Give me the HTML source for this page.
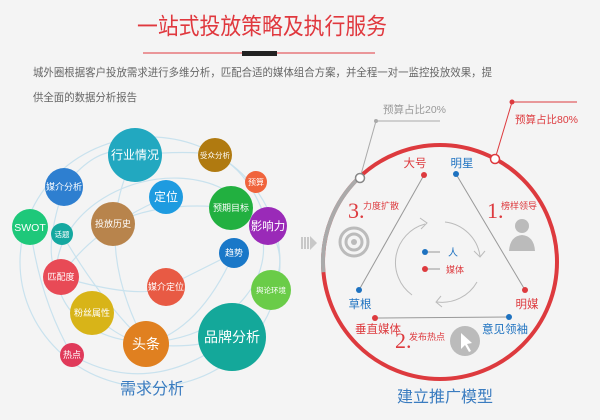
<!DOCTYPE html>
<html><head><meta charset="utf-8"><style>
html,body{margin:0;padding:0;background:#f4f4f4;}
svg{display:block;font-family:"Liberation Sans","Noto Sans CJK SC",sans-serif;}
</style></head><body>
<svg width="600" height="420" viewBox="0 0 600 420" xmlns="http://www.w3.org/2000/svg">
<rect width="600" height="420" fill="#f4f4f4"/>
<text x="137" y="34" font-size="23" fill="#e0383e" textLength="250" lengthAdjust="spacingAndGlyphs">一站式投放策略及执行服务</text>
<line x1="143" y1="53" x2="375" y2="53" stroke="#e0383e" stroke-width="1"/>
<rect x="242" y="51" width="35" height="5" fill="#222"/>
<text x="33" y="76" font-size="11" fill="#666" textLength="459" lengthAdjust="spacingAndGlyphs">城外圈根据客户投放需求进行多维分析，匹配合适的媒体组合方案，并全程一对一监控投放效果，提</text>
<text x="33" y="101" font-size="11" fill="#666" textLength="104" lengthAdjust="spacingAndGlyphs">供全面的数据分析报告</text>

<g fill="none" stroke="#c9e2ee" stroke-width="1.2">
<ellipse cx="150" cy="262" rx="130" ry="125"/>
<ellipse cx="160" cy="260" rx="105" ry="80" transform="rotate(-15 160 260)"/>
<path d="M64 187 Q100 140 135 155 Q190 150 215 155 Q250 170 268 226"/>
<path d="M30 227 Q40 300 72 355 Q150 400 232 337"/>
<path d="M61 277 Q140 300 166 287 Q210 265 234 253"/>
<path d="M113 224 Q160 200 231 208 Q260 215 268 226"/>
<path d="M92 313 Q120 340 146 344 Q190 350 232 337"/>
<path d="M135 155 Q90 240 146 344"/>
<path d="M62 234 Q100 300 146 344"/>
<path d="M234 253 Q200 330 146 344"/>
<path d="M166 197 Q90 230 61 277"/>
<path d="M271 290 Q290 260 268 226"/>
<path d="M64 187 Q40 260 61 277"/>
</g>
<g font-size="9" fill="#fff" text-anchor="middle">
<circle cx="135" cy="155" r="27" fill="#22a8c0"/><text x="135" y="159" font-size="12">行业情况</text>
<circle cx="215" cy="155" r="17" fill="#b07a10"/><text x="215" y="158" font-size="7.5">受众分析</text>
<circle cx="256" cy="182" r="11" fill="#f0643c"/><text x="256" y="185" font-size="8">预算</text>
<circle cx="64" cy="187" r="19" fill="#2e7fd0"/><text x="64" y="190">媒介分析</text>
<circle cx="166" cy="197" r="17" fill="#1e9be0"/><text x="166" y="201" font-size="12">定位</text>
<circle cx="231" cy="208" r="22" fill="#22b040"/><text x="231" y="211">预期目标</text>
<circle cx="268" cy="226" r="19" fill="#9a2ab8"/><text x="268" y="230" font-size="11.5">影响力</text>
<circle cx="30" cy="227" r="18" fill="#1ec87a"/><text x="30" y="231" font-size="10.5">SWOT</text>
<circle cx="62" cy="234" r="11" fill="#14a8a0"/><text x="62" y="237" font-size="7.5">话题</text>
<circle cx="113" cy="224" r="22" fill="#b8844c"/><text x="113" y="227">投放历史</text>
<circle cx="234" cy="253" r="15" fill="#1a78c8"/><text x="234" y="256">趋势</text>
<circle cx="61" cy="277" r="18" fill="#e84a56"/><text x="61" y="280">匹配度</text>
<circle cx="166" cy="287" r="19" fill="#e85a44"/><text x="166" y="290">媒介定位</text>
<circle cx="271" cy="290" r="20" fill="#6acc48"/><text x="271" y="293" font-size="7.5">舆论环境</text>
<circle cx="92" cy="313" r="22" fill="#d8b418"/><text x="92" y="316">粉丝属性</text>
<circle cx="146" cy="344" r="23" fill="#e08020"/><text x="146" y="349" font-size="14">头条</text>
<circle cx="232" cy="337" r="34" fill="#14a89a"/><text x="232" y="342" font-size="14">品牌分析</text>
<circle cx="72" cy="355" r="12" fill="#e03a5a"/><text x="72" y="358">热点</text>
</g>
<text x="152" y="394" text-anchor="middle" font-size="16" fill="#3a7cc0">需求分析</text>

<g fill="#c8c8c8"><rect x="301" y="237" width="2" height="12"/><rect x="304" y="237" width="2" height="12"/><rect x="307" y="237" width="2" height="12"/><polygon points="310,236 317,243 310,250"/></g>

<circle cx="440" cy="262" r="117" fill="none" stroke="#dd3a3e" stroke-width="4"/>
<path d="M323.4 272.2 A117 117 0 0 1 359.3 177.3" fill="none" stroke="#aaa" stroke-width="4"/>
<polyline points="360,178 376,121 440,121" fill="none" stroke="#aaa" stroke-width="1"/>
<circle cx="376" cy="121" r="2" fill="#aaa"/>
<text x="383" y="113" font-size="10.5" fill="#999">预算占比20%</text>
<polyline points="495,159 512,102 577,102" fill="none" stroke="#dd3a3e" stroke-width="1"/>
<circle cx="512" cy="102" r="2.5" fill="#dd3a3e"/>
<text x="515" y="123" font-size="10.5" fill="#dd3a3e">预算占比80%</text>
<circle cx="360" cy="178" r="4.5" fill="#fff" stroke="#888" stroke-width="1.5"/>
<circle cx="495" cy="159" r="4.5" fill="#fff" stroke="#dd3a3e" stroke-width="1.5"/>

<g stroke="#999" stroke-width="1">
<line x1="424" y1="175" x2="359" y2="290"/>
<line x1="456" y1="174" x2="525" y2="290"/>
<line x1="375" y1="318" x2="509" y2="317"/>
</g>
<circle cx="424" cy="175" r="3" fill="#dd3a3e"/>
<circle cx="456" cy="174" r="3" fill="#1e72c0"/>
<circle cx="359" cy="290" r="3" fill="#1e72c0"/>
<circle cx="525" cy="290" r="3" fill="#dd3a3e"/>
<circle cx="375" cy="318" r="3" fill="#dd3a3e"/>
<circle cx="509" cy="317" r="3" fill="#1e72c0"/>
<g font-size="11.5">
<text x="415" y="167" text-anchor="middle" fill="#dd3a3e">大号</text>
<text x="462" y="167" text-anchor="middle" fill="#1e72c0">明星</text>
<text x="360" y="308" text-anchor="middle" fill="#1e72c0">草根</text>
<text x="527" y="308" text-anchor="middle" fill="#dd3a3e">明媒</text>
<text x="378" y="333" text-anchor="middle" fill="#dd3a3e">垂直媒体</text>
<text x="505" y="333" text-anchor="middle" fill="#1e72c0">意见领袖</text>
</g>
<g fill="#dd3a3e">
<text x="348" y="218" font-size="22" font-family="Liberation Serif,serif">3.</text>
<text x="363" y="209" font-size="9">力度扩散</text>
<text x="487" y="218" font-size="22" font-family="Liberation Serif,serif">1.</text>
<text x="501" y="209" font-size="9">榜样领导</text>
<text x="395" y="348" font-size="22" font-family="Liberation Serif,serif">2.</text>
<text x="409" y="340" font-size="9">发布热点</text>
</g>
<g fill="none" stroke="#bbb" stroke-width="3">
<circle cx="354" cy="242" r="14"/><circle cx="354" cy="242" r="8"/>
</g>
<circle cx="354" cy="242" r="3" fill="#bbb"/>
<circle cx="522" cy="226" r="7" fill="#bbb"/>
<path d="M509 251 Q510 236 522 235 Q534 236 535 251 Z" fill="#bbb"/>
<circle cx="465" cy="341" r="15" fill="#bbb"/>
<path d="M461 333 L461 349 L465 345 L469 352 L471 351 L467 344 L472 343 Z" fill="#fff"/>
<g fill="none" stroke="#bbb" stroke-width="1">
<path d="M445 222 A40 40 0 0 1 480 256"/>
<path d="M477 282 A40 40 0 0 1 437 302"/>
<path d="M412 295 A40 40 0 0 1 425 224"/>
<polyline points="420,218 427,223 421,229"/>
<polyline points="474,251 480,257 485,251"/>
<polyline points="441,296 436,302 442,307"/>
</g>
<circle cx="425" cy="252" r="3" fill="#1e72c0"/><line x1="428" y1="252" x2="440" y2="252" stroke="#999"/>
<text x="448" y="256" font-size="10" fill="#1e72c0">人</text>
<circle cx="425" cy="269" r="3" fill="#dd3a3e"/><line x1="428" y1="269" x2="440" y2="269" stroke="#999"/>
<text x="446" y="273" font-size="9" fill="#dd3a3e">媒体</text>
<text x="445" y="402" text-anchor="middle" font-size="16" fill="#3a7cc0">建立推广模型</text>
</svg>
</body></html>
